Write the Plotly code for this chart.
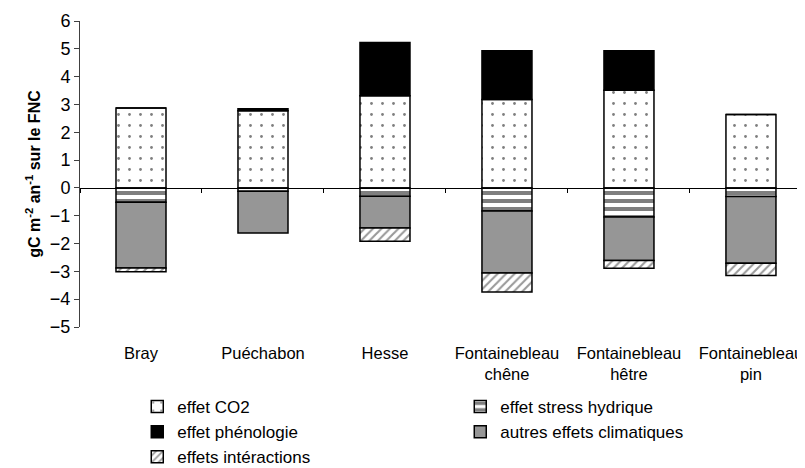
import plotly.graph_objects as go

# sites and effects (gC m-2 an-1 sur le FNC)
sites = ["Bray", "Puéchabon", "Hesse", "Fontainebleau<br>chêne",
         "Fontainebleau<br>hêtre", "Fontainebleau<br>pin"]
effet_co2 = [2.87, 2.77, 3.31, 3.18, 3.51, 2.64]
effet_stress = [-0.52, -0.12, -0.30, -0.83, -1.05, -0.31]
effet_pheno = [0.0, 0.08, 1.92, 1.75, 1.42, 0.0]
effet_autres = [-2.36, -1.50, -1.14, -2.23, -1.56, -2.40]
effet_inter = [-0.13, 0.0, -0.48, -0.68, -0.28, -0.44]

y_min, y_max = -5, 6
font = "Liberation Sans, Arial, sans-serif"
outline = dict(color="black", width=1.5)

fig = go.Figure()

fig.add_trace(go.Bar(
    x=sites, y=effet_co2, name="effet CO2",
    marker=dict(color="white", line=outline,
                pattern=dict(shape=".", fgcolor="black", bgcolor="white",
                             size=11, solidity=0.05))))
fig.add_trace(go.Bar(
    x=sites, y=effet_stress, name="effet stress hydrique",
    marker=dict(color="white", line=outline,
                pattern=dict(shape="-", fgcolor="black", bgcolor="white",
                             size=8, solidity=0.5))))
fig.add_trace(go.Bar(
    x=sites, y=effet_pheno, name="effet phénologie",
    marker=dict(color="black", line=outline)))
fig.add_trace(go.Bar(
    x=sites, y=effet_autres, name="autres effets climatiques",
    marker=dict(color="#969696", line=outline)))
fig.add_trace(go.Bar(
    x=sites, y=effet_inter, name="effets intéractions",
    marker=dict(color="white", line=outline,
                pattern=dict(shape="/", fgcolor="#333333", bgcolor="white",
                             size=6, solidity=0.35))))

# helper trace so the zero-line axis knows the categories
fig.add_trace(go.Scatter(x=sites, y=effet_co2, xaxis="x2", mode="markers",
                         marker=dict(opacity=0), showlegend=False,
                         hoverinfo="skip"))

# the page body adds an 8px margin, so the figure is a bit smaller
fig.update_layout(
    width=797, height=460,
    margin=dict(l=72, r=0, t=13, b=141),
    paper_bgcolor="white", plot_bgcolor="white",
    barmode="relative", bargap=0.59,
    font=dict(family=font, color="black", size=16),
    showlegend=True,
    legend=dict(orientation="h", xref="container", yref="container",
                x=0.1622, y=0.1717, xanchor="left", yanchor="top",
                entrywidth=278, entrywidthmode="pixels",
                font=dict(family=font, size=17), itemwidth=30,
                traceorder="normal"),
    xaxis=dict(type="category", range=[-0.5, 5.443], showline=False,
               showgrid=False, zeroline=False, ticks="",
               ticklabelstandoff=14, tickfont=dict(size=16.5)),
    xaxis2=dict(type="category", overlaying="x", matches="x",
                anchor="free", position=(0 - y_min) / (y_max - y_min),
                showline=True, linecolor="black", linewidth=1,
                ticks="outside", tickson="boundaries", ticklen=4,
                tickcolor="black", showticklabels=False, showgrid=False),
    yaxis=dict(range=[y_min, y_max], dtick=1, showgrid=False, zeroline=False,
               showline=True, linecolor="#404040", linewidth=1,
               ticks="outside", ticklen=5, tickcolor="#404040",
               tickfont=dict(size=18),
               title=dict(text="gC m<sup>-2</sup> an<sup>-1</sup> sur le FNC",
                          font=dict(size=16, weight="bold"), standoff=5)),
)

fig.write_html("out.html")
